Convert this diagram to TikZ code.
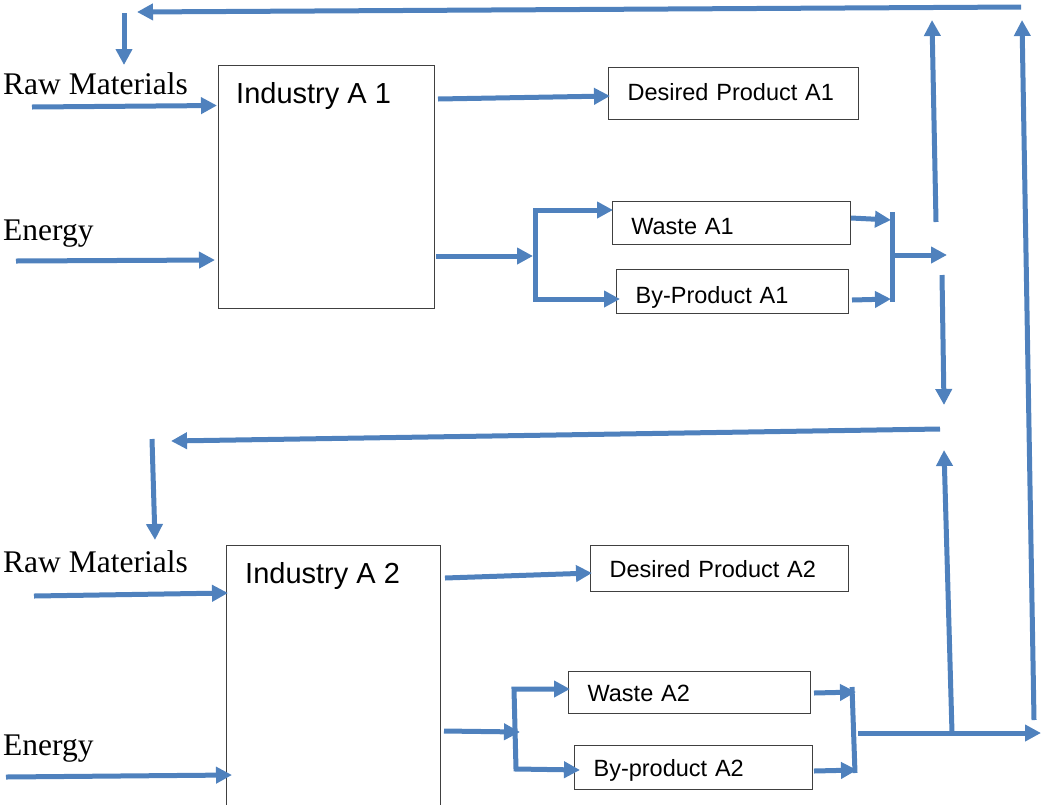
\documentclass[tikz,border=0pt]{standalone}
\usepackage{fontspec}
\setmainfont{Liberation Serif}
\newfontfamily\arialfont{Liberation Sans}
\usetikzlibrary{arrows.meta}
\definecolor{flowblue}{RGB}{79,129,189}
\definecolor{boxgray}{RGB}{64,64,64}
\begin{document}
\begin{tikzpicture}[x=1pt,y=-1pt,
  tip/.tip={Triangle[length=16pt,width=16pt]},
  flow/.style={draw=flowblue, line width=5pt, -tip},
  fork/.style={draw=flowblue, line width=5pt, tip-tip},
  bar/.style={draw=flowblue, line width=5pt},
  outbox/.style={draw=boxgray, line width=1.2pt, rectangle, anchor=north west,
    inner xsep=19pt, inner ysep=0pt, align=left,
    font=\arialfont\fontsize{23.5}{26}\selectfont, text height=17pt, text depth=0pt},
  plant/.style={draw=boxgray, line width=1.2pt, rectangle, anchor=north west, inner sep=0pt},
  side/.style={anchor=base west, inner sep=0pt, font=\fontsize{31.5}{34}\selectfont},
  plantlabel/.style={anchor=base west, inner sep=0pt, font=\arialfont\fontsize{29}{32}\selectfont}]

\useasboundingbox (0,0) rectangle (1041,804);
\clip (0,0) rectangle (1041,804);

% ---------- Industry A 1 ----------
\node[plant, minimum width=216pt, minimum height=243pt] (ind1) at (218,65) {};
\node[plantlabel] (ind1lbl) at (236,103) {Industry A 1};
\node[side] (raw1lbl) at (3,94) {Raw Materials};
\node[side] (en1lbl) at (3,240) {Energy};

\node[outbox, minimum width=250pt, minimum height=52pt, text width=212pt, text depth=4pt] (dp1) at (608,67) {Desired Product A1};
\node[outbox, minimum width=238.5pt, minimum height=43pt, text width=200pt, text height=23pt] (w1) at (611.5,201) {Waste A1};
\node[outbox, minimum width=232pt, minimum height=44pt, text width=194pt, text height=23pt] (b1) at (616,269) {By-Product A1};

% ---------- Industry A 2 ----------
\node[plant, minimum width=214pt, minimum height=300pt] (ind2) at (226,545) {};
\node[plantlabel] (ind2lbl) at (245,583) {Industry A 2};
\node[side] (raw2lbl) at (3,572) {Raw Materials};
\node[side] (en2lbl) at (3,755) {Energy};

\node[outbox, minimum width=258pt, minimum height=46pt, text width=220pt] (dp2) at (590,545) {Desired Product A2};
\node[outbox, minimum width=242pt, minimum height=42pt, text width=204pt] (w2) at (568,671) {Waste A2};
\node[outbox, minimum width=238pt, minimum height=44pt, text width=200pt] (b2) at (574,745) {By-product A2};

% ---------- flow points ----------
\coordinate (fbTopR) at (1021,7);   \coordinate (fbTopL) at (137,12);
\coordinate (dn1a) at (124,13);     \coordinate (dn1b) at (124,65);
\coordinate (raw1a) at (32,107);    \coordinate (raw1b) at (217,105.5);
\coordinate (en1a) at (16,261);     \coordinate (en1b) at (215,260);
\coordinate (dp1a) at (438,99);     \coordinate (dp1b) at (610,96);
\coordinate (sp1a) at (436,256);    \coordinate (sp1b) at (533,256);
\coordinate (w1in) at (613,210);    \coordinate (f1t) at (535,210);
\coordinate (f1b) at (535,299);     \coordinate (b1in) at (620,299);
\coordinate (w1out) at (851,218);   \coordinate (m1t) at (891,220);
\coordinate (b1out) at (852,300);   \coordinate (m1b) at (891,299);
\coordinate (bar1t) at (892,212);   \coordinate (bar1b) at (892,302);
\coordinate (o1a) at (892,255);     \coordinate (o1b) at (947,255);
\coordinate (up1a) at (936,222);    \coordinate (up1b) at (932,20);
\coordinate (dw1a) at (942,275);    \coordinate (dw1b) at (944,405);
\coordinate (fbMidR) at (940,429);  \coordinate (fbMidL) at (171,441);
\coordinate (dn2a) at (152,439);    \coordinate (dn2b) at (155,540);
\coordinate (raw2a) at (34,596);    \coordinate (raw2b) at (228,593);
\coordinate (en2a) at (6,777);      \coordinate (en2b) at (232,775);
\coordinate (dp2a) at (445,578);    \coordinate (dp2b) at (592,573);
\coordinate (sp2a) at (444,731);    \coordinate (sp2b) at (520,732);
\coordinate (w2in) at (570,689);    \coordinate (f2t) at (514,689);
\coordinate (f2b) at (516,769);     \coordinate (b2in) at (580,770);
\coordinate (w2out) at (814,693);   \coordinate (m2t) at (856,692);
\coordinate (b2out) at (814,771);   \coordinate (m2b) at (857,770);
\coordinate (bar2t) at (852,687);   \coordinate (bar2b) at (855,773);
\coordinate (o2a) at (858,733);     \coordinate (o2b) at (1041,733);
\coordinate (up2a) at (952,733);    \coordinate (up2b) at (944,450);
\coordinate (farA) at (1034,720);   \coordinate (farB) at (1022,20);

% ---------- connectors, stage 1 ----------
\draw[flow] (fbTopR) -- (fbTopL);
\draw[flow] (dn1a) -- (dn1b);
\draw[flow] (raw1a) -- (raw1b);
\draw[flow] (en1a) -- (en1b);
\draw[flow] (dp1a) -- (dp1b);
\draw[flow] (sp1a) -- (sp1b);
\draw[fork] (w1in) -- (f1t) -- (f1b) -- (b1in);
\draw[flow] (w1out) -- (m1t);
\draw[flow] (b1out) -- (m1b);
\draw[bar]  (bar1t) -- (bar1b);
\draw[flow] (o1a) -- (o1b);
\draw[flow] (up1a) -- (up1b);
\draw[flow] (dw1a) -- (dw1b);
\draw[flow] (fbMidR) -- (fbMidL);

% ---------- connectors, stage 2 ----------
\draw[flow] (dn2a) -- (dn2b);
\draw[flow] (raw2a) -- (raw2b);
\draw[flow] (en2a) -- (en2b);
\draw[flow] (dp2a) -- (dp2b);
\draw[flow] (sp2a) -- (sp2b);
\draw[fork] (w2in) -- (f2t) -- (f2b) -- (b2in);
\draw[flow] (w2out) -- (m2t);
\draw[flow] (b2out) -- (m2b);
\draw[bar]  (bar2t) -- (bar2b);
\draw[flow] (o2a) -- (o2b);
\draw[flow] (up2a) -- (up2b);
\draw[flow] (farA) -- (farB);
\end{tikzpicture}
\end{document}
